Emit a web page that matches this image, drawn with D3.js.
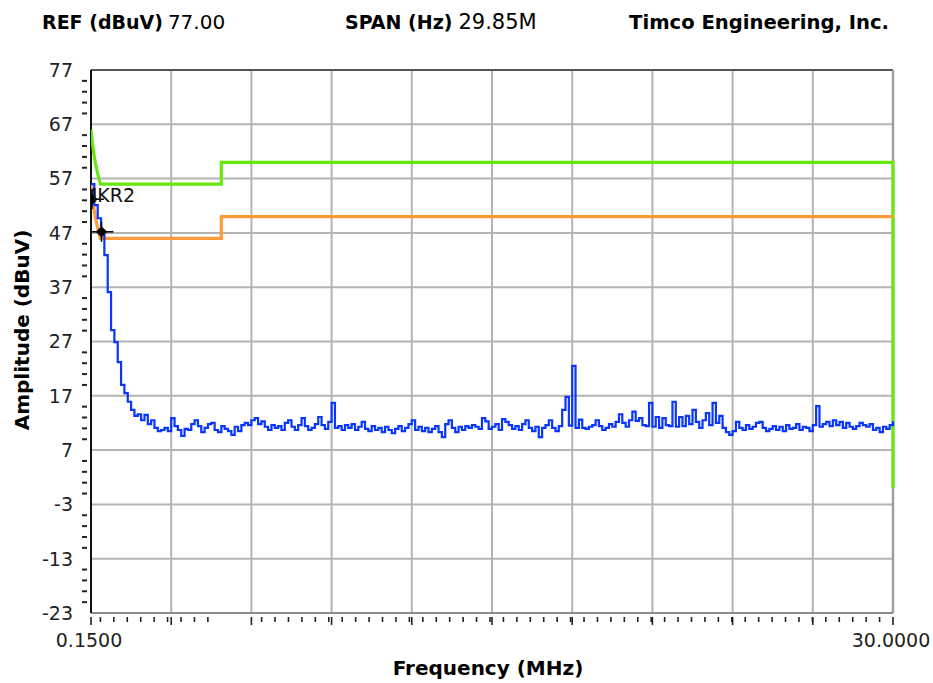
<!DOCTYPE html>
<html>
<head>
<meta charset="utf-8">
<script src="https://cdn.jsdelivr.net/npm/d3@7"></script>
<style>
body { margin: 0; background: #fff; }
svg { display: block; font-family: "DejaVu Sans", sans-serif; }
</style>
</head>
<body>
<div id="chart"></div>
<script>
// sweep settings
const sweepStart = 0.15
const sweepStop = 30
const xDivisions = 10

// measured trace (dBuV), evenly spaced across the sweep
const traceAmp = [
  56.0, 52.1, 49.7, 47.2, 42.9, 36.1, 29.1, 26.9, 23.2, 19.0,
  17.5, 15.9, 14.4, 13.3, 13.6, 12.5, 13.5, 11.8, 12.5, 11.1,
  10.5, 10.7, 11.1, 10.5, 12.9, 11.4, 10.7, 9.6, 10.9, 10.7,
  11.8, 12.5, 11.4, 10.3, 11.1, 11.8, 12.0, 10.7, 10.3, 11.4,
  10.9, 10.5, 9.8, 11.3, 10.5, 11.6, 12.0, 11.6, 12.5, 12.9,
  11.8, 12.3, 11.3, 10.7, 11.6, 11.1, 11.4, 10.7, 12.0, 12.5,
  11.3, 10.7, 11.6, 12.9, 11.4, 10.7, 11.1, 11.8, 13.1, 11.6,
  10.9, 12.2, 15.7, 11.1, 11.4, 10.7, 11.6, 11.1, 11.8, 10.7,
  11.3, 12.2, 10.9, 10.5, 11.4, 10.7, 11.1, 10.3, 11.3, 10.7,
  10.1, 10.9, 11.4, 10.5, 11.1, 11.8, 12.5, 10.7, 11.3, 10.5,
  11.1, 10.3, 10.9, 11.4, 10.3, 9.4, 11.8, 12.5, 11.1, 10.3,
  11.3, 10.7, 11.4, 11.1, 11.6, 11.3, 10.9, 12.9, 12.3, 10.9,
  11.3, 11.8, 10.7, 12.7, 12.2, 11.6, 10.9, 11.4, 10.7, 11.8,
  12.5, 11.1, 10.5, 11.3, 9.4, 11.1, 11.6, 12.5, 11.1, 10.5,
  11.4, 14.4, 16.8, 11.5, 22.5, 11.1, 12.6, 11.1, 10.9, 11.3,
  11.6, 12.5, 11.4, 10.7, 11.1, 11.8, 11.3, 12.2, 13.6, 12.0,
  11.3, 12.5, 14.1, 12.4, 12.9, 11.6, 11.4, 15.7, 11.3, 13.1,
  11.1, 12.9, 11.6, 11.4, 15.9, 11.3, 13.1, 11.4, 13.3, 11.8,
  14.4, 12.2, 11.1, 12.5, 13.8, 11.6, 15.7, 12.0, 13.3, 11.1,
  10.3, 9.8, 10.5, 12.2, 11.1, 10.7, 11.6, 10.9, 11.3, 12.0,
  12.2, 11.1, 10.5, 10.9, 11.4, 10.7, 11.3, 10.5, 11.6, 10.9,
  11.1, 11.8, 10.7, 11.3, 11.1, 10.5, 11.6, 15.1, 11.3, 11.8,
  12.2, 11.4, 12.5, 11.6, 12.2, 11.1, 12.0, 11.3, 10.9, 11.4,
  12.0, 11.6, 11.3, 11.8, 10.7, 11.1, 10.3, 11.3, 10.9, 11.6,
  12.3
]

// limit lines
const qpFreq = [0.15, 0.2, 0.25, 0.3, 0.35, 0.4, 0.45, 0.5, 5, 5, 30, 30]
const qpAmp = [66, 63.6, 61.8, 60.2, 59.0, 57.9, 56.9, 56, 56, 60, 60, 0]
const avgFreq = [0.15, 0.2, 0.25, 0.3, 0.35, 0.4, 0.45, 0.5, 5, 5, 30]
const avgAmp = [56, 53.6, 51.8, 50.2, 49.0, 47.9, 46.9, 46, 46, 50, 50]

// markers
const markerFreq = [0.54, 0.185]
const markerAmp = [47.2, 53.2]
const markerLabel = ['', 'MKR2']

// axis labels
const yLabels = [77, 67, 57, 47, 37, 27, 17, 7, -3, -13, -23]
const xLabels = [0.15, 30]

const margin = {top: 70, right: 40, bottom: 70, left: 91}
const width = 933 - margin.left - margin.right
const height = 683 - margin.top - margin.bottom

const x = d3.scaleLinear().domain([sweepStart, sweepStop]).range([0, width])
const y = d3.scaleLinear().domain([-23, 77]).range([height, 0])

const root = d3.select('#chart').append('svg')
  .attr('width', 933).attr('height', 683)

// header
const header = root.append('g').attr('font-size', 19)
header.append('text').attr('x', 42).attr('y', 29)
  .html('<tspan font-weight="bold">REF (dBuV)</tspan><tspan font-size="20" dx="5">77.00</tspan>')
header.append('text').attr('x', 345).attr('y', 29)
  .html('<tspan font-weight="bold">SPAN (Hz)</tspan><tspan font-size="21" dx="6">29.85M</tspan>')
header.append('text').attr('x', 889).attr('y', 29)
  .attr('text-anchor', 'end').attr('font-weight', 'bold').attr('font-size', 19.6)
  .text('Timco Engineering, Inc.')

const svg = root.append('g').attr('transform', 'translate(' + [margin.left, margin.top] + ')')

svg.append('clipPath').attr('id', 'plot-clip')
  .append('rect').attr('x', 0).attr('y', -2).attr('width', width + 2).attr('height', height + 4)

// grid
const gridFreqs = d3.range(0, xDivisions + 1).map(i => sweepStart + i * (sweepStop - sweepStart) / xDivisions)
svg.append('g').selectAll('line').data(gridFreqs.slice(1, -1)).enter().append('line')
  .attr('x1', d => x(d)).attr('x2', d => x(d))
  .attr('y1', 0).attr('y2', height)
  .attr('stroke', '#b4b4b4').attr('stroke-width', 2)
svg.append('g').selectAll('line').data(yLabels.slice(1, -1)).enter().append('line')
  .attr('x1', 0).attr('x2', width)
  .attr('y1', d => y(d)).attr('y2', d => y(d))
  .attr('stroke', '#b4b4b4').attr('stroke-width', 2)

// frame
svg.append('line').attr('x1', 0).attr('x2', width).attr('y1', 0).attr('y2', 0)
  .attr('stroke', '#555').attr('stroke-width', 2)
svg.append('line').attr('x1', width).attr('x2', width).attr('y1', 0).attr('y2', height)
  .attr('stroke', '#a0a0a0').attr('stroke-width', 2.5)
svg.append('line').attr('x1', 0).attr('x2', width).attr('y1', height).attr('y2', height)
  .attr('stroke', '#8a8a8a').attr('stroke-width', 2)
svg.append('line').attr('x1', 0).attr('x2', 0).attr('y1', 0).attr('y2', height)
  .attr('stroke', '#111').attr('stroke-width', 2)

// y minor ticks every 2 dB
const yMinor = d3.range(-21, 77, 2).filter(v => !yLabels.includes(v))
svg.append('g').selectAll('line').data(yMinor).enter().append('line')
  .attr('x1', -9).attr('x2', -4)
  .attr('y1', d => y(d)).attr('y2', d => y(d))
  .attr('stroke', '#222').attr('stroke-width', 2)

// x minor ticks every 0.5 MHz (the analyser leaves a gap near 5-6 MHz)
const xMinor = d3.range(0.5, 30, 0.5).filter(f => f < 4.9 || f > 6.1)
svg.append('g').selectAll('line').data(xMinor).enter().append('line')
  .attr('x1', d => x(d)).attr('x2', d => x(d))
  .attr('y1', height + 4).attr('y2', height + 9)
  .attr('stroke', '#222').attr('stroke-width', 1.6)
svg.append('g').selectAll('line').data(gridFreqs).enter().append('line')
  .attr('x1', d => x(d)).attr('x2', d => x(d))
  .attr('y1', height + 4).attr('y2', height + 12)
  .attr('stroke', '#222').attr('stroke-width', 1.6)

// tick labels
svg.append('g').selectAll('text').data(yLabels).enter().append('text')
  .attr('x', -18).attr('y', d => y(d)).attr('dy', '0.36em')
  .attr('text-anchor', 'end').attr('font-size', 19).attr('fill', '#222')
  .text(d => d)
svg.append('g').selectAll('text').data(xLabels).enter().append('text')
  .attr('x', d => x(d) - 2).attr('y', height + 34)
  .attr('text-anchor', 'middle').attr('font-size', 19).attr('fill', '#222')
  .text(d3.format('.4f'))

// axis titles
svg.append('text').attr('x', 397).attr('y', height + 62)
  .attr('text-anchor', 'middle').attr('font-size', 20).attr('font-weight', 'bold')
  .text('Frequency (MHz)')
svg.append('text').attr('transform', 'translate(' + [-62, 260] + ') rotate(-90)')
  .attr('text-anchor', 'middle').attr('font-size', 20).attr('font-weight', 'bold')
  .text('Amplitude (dBuV)')

// lines
const plot = svg.append('g').attr('clip-path', 'url(#plot-clip)')
const limitLine = d3.line().x(d => x(d[0])).y(d => y(d[1]))
plot.append('path').datum(d3.zip(qpFreq, qpAmp))
  .attr('d', limitLine).attr('fill', 'none')
  .attr('stroke', '#66e80e').attr('stroke-width', 3.2)
plot.append('path').datum(d3.zip(avgFreq, avgAmp))
  .attr('d', limitLine).attr('fill', 'none')
  .attr('stroke', '#ff9a3a').attr('stroke-width', 3.2)

const step = (sweepStop - sweepStart) / (traceAmp.length - 1)
const traceLine = d3.line().curve(d3.curveStepAfter)
  .x((d, i) => x(sweepStart + i * step)).y(d => y(d))
plot.append('path').datum(traceAmp)
  .attr('d', traceLine).attr('fill', 'none')
  .attr('stroke', '#0836ff').attr('stroke-width', 2.2)

// markers
const markers = plot.selectAll('.marker').data(d3.zip(markerFreq, markerAmp, markerLabel))
  .enter().append('g').attr('class', 'marker')
  .attr('transform', d => 'translate(' + [x(d[0]), y(d[1])] + ')')
markers.append('line').attr('x1', -12).attr('x2', 12)
  .attr('stroke', '#000').attr('stroke-width', 1.5)
markers.append('line').attr('y1', -10).attr('y2', 10)
  .attr('stroke', '#000').attr('stroke-width', 1.5)
markers.append('path').attr('d', d3.symbol(d3.symbolSquare, 64))
  .attr('transform', 'rotate(45)').attr('fill', '#000')
markers.append('text').attr('x', -11).attr('y', 3)
  .attr('font-size', 19).attr('fill', '#111')
  .text(d => d[2])
</script>
</body>
</html>
